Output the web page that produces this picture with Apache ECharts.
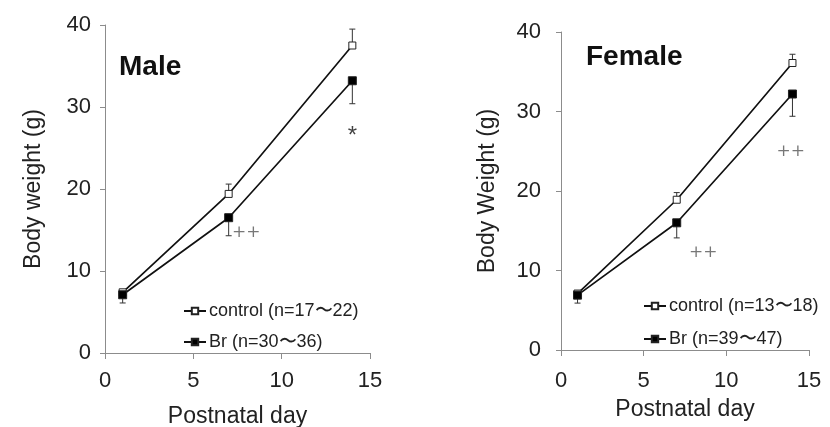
<!DOCTYPE html>
<html>
<head>
<meta charset="utf-8">
<script src="https://cdn.jsdelivr.net/npm/echarts@6/dist/echarts.min.js"></script>
<style>
  html, body { margin: 0; padding: 0; background: #fff; }
  #chart { width: 830px; height: 427px; }
</style>
</head>
<body>
<div id="chart"></div>
<script>
// postnatal days
var days = [1, 7, 14];
var xTicks = [0, 5, 10, 15];
var yTicks = [0, 10, 20, 30, 40];

// male (mean, SD)
var maleControl = [7.4, 19.4, 37.5];
var maleControlErr = [0.3, 1.2, 2.0];
var maleBr = [7.1, 16.5, 33.2];
var maleBrErr = [1.0, 2.2, 2.8];

// female (mean, SD)
var femaleControl = [7.1, 18.9, 36.1];
var femaleControlErr = [0.3, 0.9, 1.1];
var femaleBr = [6.9, 16.0, 32.2];
var femaleBrErr = [1.0, 1.9, 2.8];

// significance marks [day, y, text]
var maleMarks = [[8.0, 14.7, "++"], [14.0, 26.4, "*"]];
var femaleMarks = [[8.6, 12.3, "++"], [13.9, 25.0, "++"]];

var font = "Liberation Sans, Arial, sans-serif";
var axisGray = "#8c8c8c";
var textColor = "#222";

function errData(vals, errs, dir) {
  return days.map(function (d, i) {
    return [d, vals[i], vals[i] + dir * errs[i]];
  });
}

function errSeries(data, idx) {
  return {
    type: "custom",
    xAxisIndex: idx,
    yAxisIndex: idx,
    z: 1,
    silent: true,
    data: data,
    renderItem: function (params, api) {
      var p0 = api.coord([api.value(0), api.value(1)]);
      var p1 = api.coord([api.value(0), api.value(2)]);
      return {
        type: "group",
        children: [
          { type: "line", shape: { x1: p0[0], y1: p0[1], x2: p1[0], y2: p1[1] }, style: { stroke: "#333", lineWidth: 1 } },
          { type: "line", shape: { x1: p1[0] - 3, y1: p1[1], x2: p1[0] + 3, y2: p1[1] }, style: { stroke: "#333", lineWidth: 1 } }
        ]
      };
    }
  };
}

function lineSeries(name, vals, idx, filled) {
  return {
    name: name,
    type: "line",
    xAxisIndex: idx,
    yAxisIndex: idx,
    z: 3,
    data: days.map(function (d, i) { return [d, vals[i]]; }),
    symbol: "rect",
    symbolSize: filled ? 8 : 7,
    lineStyle: { color: "#111", width: 1.7 },
    itemStyle: { color: filled ? "#000" : "#fff", borderColor: "#222", borderWidth: 1 },
    emphasis: { disabled: true }
  };
}

function markSeries(marks, idx) {
  return {
    type: "scatter",
    xAxisIndex: idx,
    yAxisIndex: idx,
    symbolSize: 0,
    silent: true,
    data: marks.map(function (m) {
      var star = m[2] === "*";
      return {
        value: [m[0], m[1]],
        name: m[2],
        label: star ? { fontFamily: font, fontSize: 24, color: "#111" } : {}
      };
    }),
    label: {
      show: true,
      position: "inside",
      formatter: function (p) { return p.name; },
      fontFamily: "DejaVu Serif, serif",
      fontSize: 17,
      color: "#555"
    }
  };
}

function xAxis(idx, labelMargin, nameGap) {
  return {
    type: "value",
    gridIndex: idx,
    min: xTicks[0], max: xTicks[xTicks.length - 1], interval: 5,
    name: "Postnatal day",
    nameLocation: "middle",
    nameGap: nameGap,
    nameTextStyle: { fontFamily: font, fontSize: 23, color: textColor },
    axisLine: { lineStyle: { color: axisGray } },
    axisTick: { show: true, length: 6, lineStyle: { color: axisGray } },
    axisLabel: { fontFamily: font, fontSize: 22, color: textColor, margin: labelMargin },
    splitLine: { show: false }
  };
}

function yAxis(idx, title, labelMargin, nameGap) {
  return {
    type: "value",
    gridIndex: idx,
    min: yTicks[0], max: yTicks[yTicks.length - 1], interval: 10,
    name: title,
    nameLocation: "middle",
    nameGap: nameGap,
    nameTextStyle: { fontFamily: font, fontSize: 23, color: textColor },
    axisLine: { show: true, lineStyle: { color: axisGray } },
    axisTick: { show: true, length: 5, lineStyle: { color: axisGray } },
    axisLabel: { fontFamily: font, fontSize: 22, color: textColor, margin: labelMargin },
    splitLine: { show: false }
  };
}

function legend(names, left, top, gap) {
  return {
    data: names,
    orient: "vertical",
    left: left,
    top: top,
    itemWidth: 22,
    itemHeight: 8,
    itemGap: gap,
    selectedMode: false,
    textStyle: { fontFamily: font, fontSize: 18, color: textColor, padding: [0, 0, 0, -2] }
  };
}

var chart = echarts.init(document.getElementById("chart"));
var option = {
  backgroundColor: "#fff",
  animation: false,
  title: [
    { text: "Male", left: 114, top: 48, textStyle: { fontFamily: font, fontSize: 28, fontWeight: "bold", color: "#111" } },
    { text: "Female", left: 581, top: 38, textStyle: { fontFamily: font, fontSize: 28, fontWeight: "bold", color: "#111" } }
  ],
  legend: [
    legend(["control (n=17\u301c22)", "Br (n=30\u301c36)"], 178, 297, 13),
    legend(["control (n=13\u301c18)", "Br (n=39\u301c47)"], 638, 292, 15)
  ],
  grid: [
    { left: 105, top: 25, width: 265, height: 328, outerBoundsMode: "none" },
    { left: 561, top: 32, width: 248, height: 318, outerBoundsMode: "none" }
  ],
  xAxis: [xAxis(0, 17, 52), xAxis(1, 20, 48)],
  yAxis: [yAxis(0, "Body weight (g)", 14, 60), yAxis(1, "Body Weight (g)", 20, 62)],
  series: [
    errSeries(errData(maleControl, maleControlErr, 1), 0),
    errSeries(errData(maleBr, maleBrErr, -1), 0),
    lineSeries("control (n=17\u301c22)", maleControl, 0, false),
    lineSeries("Br (n=30\u301c36)", maleBr, 0, true),
    markSeries(maleMarks, 0),
    errSeries(errData(femaleControl, femaleControlErr, 1), 1),
    errSeries(errData(femaleBr, femaleBrErr, -1), 1),
    lineSeries("control (n=13\u301c18)", femaleControl, 1, false),
    lineSeries("Br (n=39\u301c47)", femaleBr, 1, true),
    markSeries(femaleMarks, 1)
  ]
};
chart.setOption(option);
</script>
</body>
</html>
